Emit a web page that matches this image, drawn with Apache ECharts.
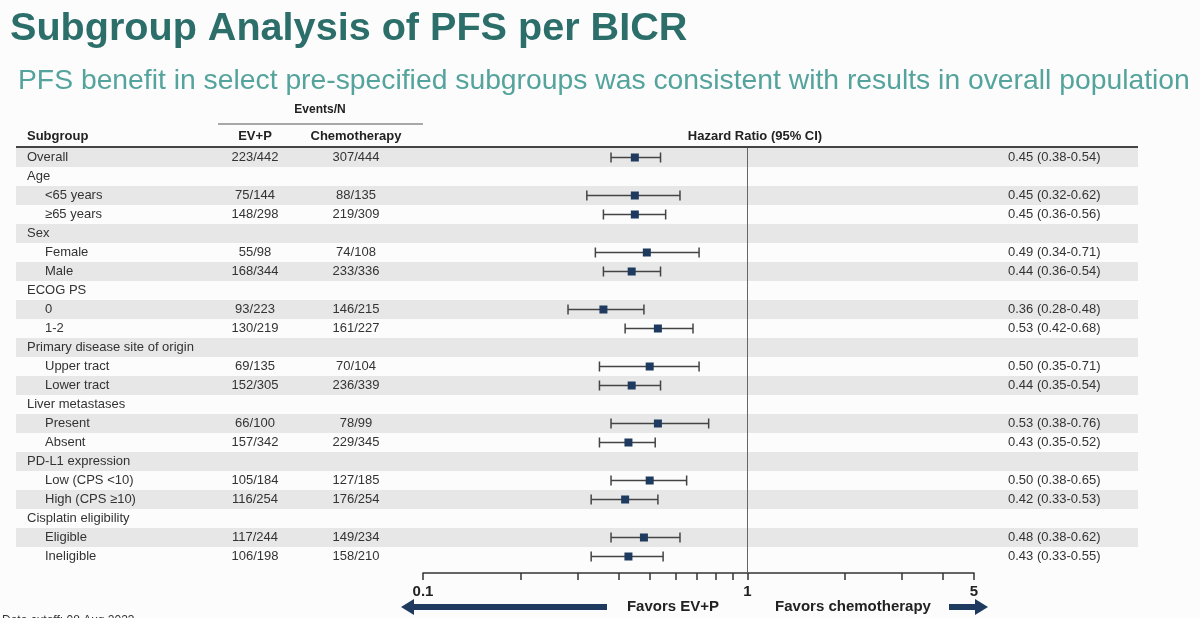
<!DOCTYPE html>
<html>
<head>
<meta charset="utf-8">
<script src="https://cdn.jsdelivr.net/npm/echarts@6/dist/echarts.min.js"></script>
<style>
  html, body { margin: 0; padding: 0; background: #fbfcfb; }
  #chart { width: 1200px; height: 618px; }
</style>
</head>
<body>
<div id="chart"></div>
<script>
// ---- data ----
const subgroups = ['Overall', 'Age', '<65 years', '≥65 years', 'Sex', 'Female', 'Male', 'ECOG PS', '0', '1-2',
  'Primary disease site of origin', 'Upper tract', 'Lower tract', 'Liver metastases', 'Present', 'Absent',
  'PD-L1 expression', 'Low (CPS <10)', 'High (CPS ≥10)', 'Cisplatin eligibility', 'Eligible', 'Ineligible'];
const indent = [0, 0, 1, 1, 0, 1, 1, 0, 1, 1, 0, 1, 1, 0, 1, 1, 0, 1, 1, 0, 1, 1];
const evpEvents = ['223/442', '', '75/144', '148/298', '', '55/98', '168/344', '', '93/223', '130/219',
  '', '69/135', '152/305', '', '66/100', '157/342', '', '105/184', '116/254', '', '117/244', '106/198'];
const chemoEvents = ['307/444', '', '88/135', '219/309', '', '74/108', '233/336', '', '146/215', '161/227',
  '', '70/104', '236/339', '', '78/99', '229/345', '', '127/185', '176/254', '', '149/234', '158/210'];
const hr = [0.45, null, 0.45, 0.45, null, 0.49, 0.44, null, 0.36, 0.53, null, 0.50, 0.44, null, 0.53, 0.43, null, 0.50, 0.42, null, 0.48, 0.43];
const ciLow = [0.38, null, 0.32, 0.36, null, 0.34, 0.36, null, 0.28, 0.42, null, 0.35, 0.35, null, 0.38, 0.35, null, 0.38, 0.33, null, 0.38, 0.33];
const ciHigh = [0.54, null, 0.62, 0.56, null, 0.71, 0.54, null, 0.48, 0.68, null, 0.71, 0.54, null, 0.76, 0.52, null, 0.65, 0.53, null, 0.62, 0.55];
const tickValues = [0.1, 0.2, 0.3, 0.4, 0.5, 0.6, 0.7, 0.8, 0.9, 1, 2, 3, 4, 5];
const labelValues = [0.1, 1, 5];

// ---- layout ----
const NARROW = '"Liberation Sans Narrow","Arial Narrow","Liberation Sans",Arial,sans-serif';
const SANS = '"Liberation Sans",Arial,sans-serif';
const TOP = 148, BOTTOM = 45, ROW_H = 19;
const Y_MAX = (618 - TOP - BOTTOM) / ROW_H;
const COL = { label: 27, indent: 45, evp: 255, chemo: 356, hr: 1008 };
const NAVY = '#1f3a5f';

const fmt = (v) => v.toFixed(2);
const tableData = subgroups.map((s, i) => [0, i]);
const forestData = [];
hr.forEach((v, i) => { if (v != null) forestData.push([i, v, ciLow[i], ciHigh[i]]); });

const chart = echarts.init(document.getElementById('chart'));

const yAxisBase = { type: 'value', inverse: true, min: 0, max: Y_MAX, show: false };

chart.setOption({
  backgroundColor: '#fbfcfb',
  animation: false,
  grid: [
    { left: 16, right: 62, top: TOP, bottom: BOTTOM },
    { left: 423, right: 226, top: TOP, bottom: BOTTOM }
  ],
  xAxis: [
    { gridIndex: 0, type: 'value', min: 0, max: 1, show: false },
    {
      gridIndex: 1, type: 'log', logBase: 10, min: 0.1, max: 5, position: 'bottom',
      axisLine: { onZero: false, lineStyle: { color: '#333', width: 1.5 } },
      axisTick: { customValues: tickValues, length: 7, lineStyle: { color: '#333', width: 1.5 } },
      minorTick: { show: false },
      splitLine: { show: false },
      axisLabel: {
        customValues: labelValues,
        formatter: (v) => String(Number(Number(v).toPrecision(3))),
        color: '#222', fontSize: 15, fontWeight: 'bold', fontFamily: SANS, margin: 11
      }
    }
  ],
  yAxis: [
    Object.assign({ gridIndex: 0 }, yAxisBase),
    Object.assign({ gridIndex: 1 }, yAxisBase)
  ],
  graphic: [
    { type: 'text', left: 10, top: 9, style: { text: 'Subgroup Analysis of PFS per BICR', font: 'bold 39.6px ' + SANS, fill: '#2c6e6a' } },
    { type: 'text', left: 18, top: 67, style: { text: 'PFS benefit in select pre-specified subgroups was consistent with results in overall population', font: '28.3px ' + SANS, fill: '#55a39d' } },
    { type: 'text', x: 320, y: 110, style: { text: 'Events/N', font: 'bold 12px ' + NARROW, fill: '#222', align: 'center', verticalAlign: 'middle' } },
    { type: 'line', shape: { x1: 218, y1: 124, x2: 423, y2: 124 }, style: { stroke: '#555', lineWidth: 1 } },
    { type: 'text', x: COL.label, y: 136, style: { text: 'Subgroup', font: 'bold 13px ' + NARROW, fill: '#222', verticalAlign: 'middle' } },
    { type: 'text', x: COL.evp, y: 136, style: { text: 'EV+P', font: 'bold 13px ' + NARROW, fill: '#222', align: 'center', verticalAlign: 'middle' } },
    { type: 'text', x: COL.chemo, y: 136, style: { text: 'Chemotherapy', font: 'bold 13px ' + NARROW, fill: '#222', align: 'center', verticalAlign: 'middle' } },
    { type: 'text', x: 755, y: 136, style: { text: 'Hazard Ratio (95% CI)', font: 'bold 13px ' + NARROW, fill: '#222', align: 'center', verticalAlign: 'middle' } },
    { type: 'line', z: 10, shape: { x1: 16, y1: 147, x2: 1138, y2: 147 }, style: { stroke: '#444', lineWidth: 2 } },
    { type: 'text', x: 673, y: 607, style: { text: 'Favors EV+P', font: 'bold 15px ' + SANS, fill: '#222', align: 'center', verticalAlign: 'middle' } },
    { type: 'text', x: 853, y: 607, style: { text: 'Favors chemotherapy', font: 'bold 15px ' + SANS, fill: '#222', align: 'center', verticalAlign: 'middle' } },
    { type: 'line', shape: { x1: 607, y1: 607, x2: 412, y2: 607 }, style: { stroke: NAVY, lineWidth: 6 } },
    { type: 'polygon', shape: { points: [[401, 607], [414, 599], [414, 615]] }, style: { fill: NAVY } },
    { type: 'line', shape: { x1: 949, y1: 607, x2: 977, y2: 607 }, style: { stroke: NAVY, lineWidth: 6 } },
    { type: 'polygon', shape: { points: [[988, 607], [975, 599], [975, 615]] }, style: { fill: NAVY } },
    { type: 'text', x: 2, y: 615, style: { text: 'Data cutoff: 08 Aug 2023', font: '12px ' + SANS, fill: '#333' } }
  ],
  series: [
    {
      type: 'custom', xAxisIndex: 0, yAxisIndex: 0, z: 1, silent: true,
      data: tableData,
      renderItem: (params, api) => {
        const i = api.value(1);
        const top = api.coord([0, i])[1];
        const bottom = api.coord([0, i + 1])[1];
        const left = api.coord([0, i])[0];
        const right = api.coord([1, i])[0];
        const mid = (top + bottom) / 2;
        const txt = (x, text, align) => ({
          type: 'text', x, y: mid,
          style: { text, font: '13px ' + NARROW, fill: '#333', align: align || 'left', verticalAlign: 'middle' }
        });
        const children = [];
        if (i % 2 === 0) {
          children.push({ type: 'rect', shape: { x: left, y: top, width: right - left, height: bottom - top }, style: { fill: '#e6e7e6' } });
        }
        children.push(txt(indent[i] ? COL.indent : COL.label, subgroups[i]));
        if (evpEvents[i]) children.push(txt(COL.evp, evpEvents[i], 'center'));
        if (chemoEvents[i]) children.push(txt(COL.chemo, chemoEvents[i], 'center'));
        if (hr[i] != null) children.push(txt(COL.hr, fmt(hr[i]) + ' (' + fmt(ciLow[i]) + '-' + fmt(ciHigh[i]) + ')'));
        return { type: 'group', children };
      }
    },
    {
      type: 'custom', xAxisIndex: 1, yAxisIndex: 1, z: 3, silent: true,
      data: forestData,
      encode: { x: [1, 2, 3], y: 0 },
      renderItem: (params, api) => {
        const y = api.value(0) + 0.5;
        const p = api.coord([api.value(1), y]);
        const lo = api.coord([api.value(2), y]);
        const hi = api.coord([api.value(3), y]);
        const ls = { stroke: '#444', lineWidth: 1.5 };
        return {
          type: 'group',
          children: [
            { type: 'line', shape: { x1: lo[0], y1: p[1], x2: hi[0], y2: p[1] }, style: ls },
            { type: 'line', shape: { x1: lo[0], y1: p[1] - 5, x2: lo[0], y2: p[1] + 5 }, style: ls },
            { type: 'line', shape: { x1: hi[0], y1: p[1] - 5, x2: hi[0], y2: p[1] + 5 }, style: ls },
            { type: 'rect', shape: { x: p[0] - 4, y: p[1] - 4, width: 8, height: 8 }, style: { fill: NAVY } }
          ]
        };
      },
      markLine: {
        silent: true, symbol: 'none', label: { show: false },
        lineStyle: { color: '#666', width: 1, type: 'solid' },
        data: [{ xAxis: 1 }]
      }
    }
  ]
});
</script>
</body>
</html>
